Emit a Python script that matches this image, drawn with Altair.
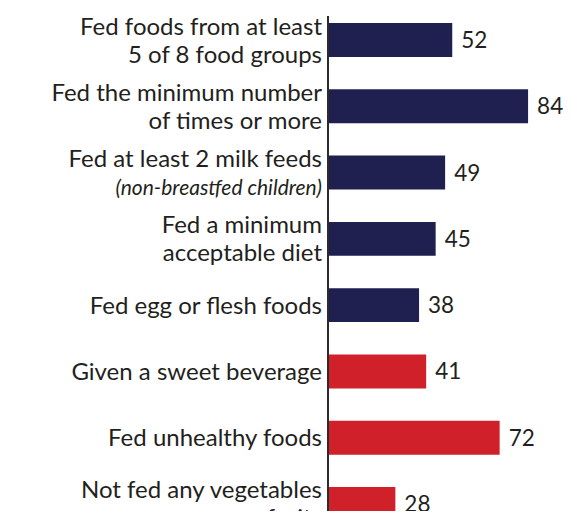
import altair as alt
import pandas as pd

labels = [
    "Fed foods from at least\n5 of 8 food groups",
    "Fed the minimum number\nof times or more",
    "Fed at least 2 milk feeds",
    "Fed a minimum\nacceptable diet",
    "Fed egg or flesh foods",
    "Given a sweet beverage",
    "Fed unhealthy foods",
    "Not fed any vegetables\nor fruits",
]
notes = ["", "", "(non-breastfed children)", "", "", "", "", ""]
values = [52, 84, 49, 45, 38, 41, 72, 28]
groups = ["good", "good", "good", "good", "good", "bad", "bad", "bad"]
nlines = [2, 2, 1, 2, 1, 1, 1, 2]

df = pd.DataFrame({"label": labels, "note": notes, "value": values,
                   "group": groups, "nlines": nlines})

TXT = "#231f20"
FONT = "Lato"

y_enc = alt.Y(
    "label:N",
    sort=None,
    axis=None,
    scale=alt.Scale(range=[0, 528], paddingInner=0.487, paddingOuter=0.228),
)
x_scale = alt.Scale(domain=[0, 100], range=[0, 237], nice=False)

base = alt.Chart(df)

bars = base.mark_bar().encode(
    y=y_enc,
    x=alt.X("value:Q", scale=x_scale, axis=None),
    color=alt.Color(
        "group:N",
        scale=alt.Scale(domain=["good", "bad"], range=["#1f1f50", "#d0202a"]),
        legend=None,
    ),
)

values_txt = base.mark_text(
    align="left", baseline="middle", dx=9, dy=1, fontSize=22.5, font=FONT, color=TXT
).encode(
    y=y_enc,
    x=alt.X("value:Q", scale=x_scale, axis=None),
    text="value:Q",
)

labels_two = base.transform_filter("datum.nlines == 2").mark_text(
    align="right", baseline="middle", lineBreak="\n", lineHeight=28,
    fontSize=24, font=FONT, color=TXT, dy=-12.5,
).encode(
    y=y_enc,
    x=alt.value(-7),
    text="label:N",
)

labels_one = base.transform_filter("datum.nlines == 1 && datum.note == ''").mark_text(
    align="right", baseline="middle",
    fontSize=24, font=FONT, color=TXT, dy=1.5,
).encode(
    y=y_enc,
    x=alt.value(-7),
    text="label:N",
)

labels_main_shift = base.transform_filter("datum.note != ''").mark_text(
    align="right", baseline="middle", fontSize=24, font=FONT, color=TXT, dy=-13,
).encode(
    y=y_enc,
    x=alt.value(-7),
    text="label:N",
)

labels_note = base.transform_filter("datum.note != ''").mark_text(
    align="right", baseline="middle", fontSize=21, font=FONT, fontStyle="italic",
    color=TXT, dy=16,
).encode(
    y=y_enc,
    x=alt.value(-7),
    text="note:N",
)

axis_line = base.mark_rule(color="#2b2b2b", strokeWidth=2).encode(
    x=alt.value(-1), y=alt.value(8), y2=alt.value(530)
)

chart = alt.layer(
    bars, values_txt, labels_two, labels_one, labels_main_shift, labels_note, axis_line
).properties(
    width=234,
    height=503,
    autosize=alt.AutoSizeParams(type="none"),
    padding={"left": 321, "top": 0, "right": 0, "bottom": 0},
).configure_view(stroke=None)

chart.save("out.html", embed_options={"renderer": "svg", "actions": False})
